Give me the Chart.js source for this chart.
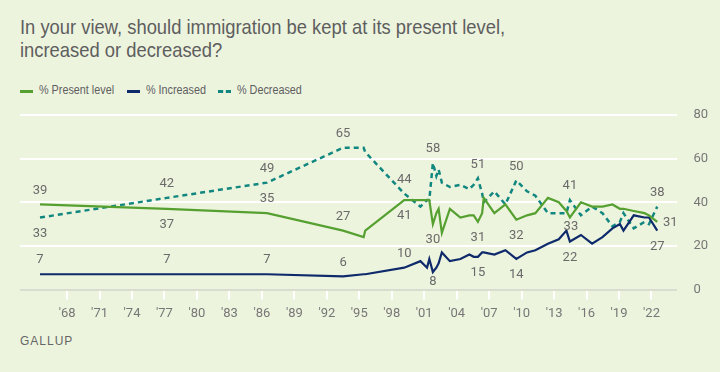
<!DOCTYPE html>
<html>
<head>
<meta charset="utf-8">
<script src="https://cdn.jsdelivr.net/npm/chart.js@4.4.0/dist/chart.umd.min.js"></script>
<style>
  html, body { margin: 0; padding: 0; }
  body { background: #edf4de; }
  #wrap { position: relative; width: 720px; height: 372px; background: #edf4de; overflow: hidden; }
  #chart { position: absolute; left: 0; top: 0; }
  .title {
    position: absolute; left: 20px; top: 15px; width: 700px;
    font-family: "Liberation Sans", Arial, sans-serif;
    font-size: 21px; line-height: 23px; color: #5e5e5e;
    transform: scaleX(0.875); transform-origin: 0 0; white-space: nowrap;
  }
  .legend {
    position: absolute; top: 83px; height: 14px;
    font-family: "Liberation Sans", Arial, sans-serif;
    font-size: 12px; color: #5e5e5e; white-space: nowrap;
  }
  .legend span { position: absolute; top: 0; display: inline-block; transform: scaleX(0.9); transform-origin: 0 0; }
  .legend i { position: absolute; top: 7px; width: 13px; height: 0; }
  .source {
    position: absolute; left: 20px; top: 334px;
    font-family: "Liberation Sans", Arial, sans-serif;
    font-size: 12px; letter-spacing: 1px; color: #666;
  }
</style>
</head>
<body>
<div id="wrap">
  <div class="title">In your view, should immigration be kept at its present level,<br>increased or decreased?</div>
  <div class="legend" style="left:0">
    <i style="left:20px;border-top:3px solid #55a030"></i><span style="left:39px">% Present level</span>
    <i style="left:127px;border-top:3px solid #0f2a6b"></i><span style="left:146px">% Increased</span>
    <i style="left:218px;border-top:3px dashed #12877f"></i><span style="left:237px">% Decreased</span>
  </div>
  <div class="source">GALLUP</div>
  <canvas id="chart" width="720" height="372"></canvas>
</div>
<script>
// Datos (años decimales)
const surveyDates = [
  1965.5, 1977.22, 1986.47, 1993.5, 1995.4, 1995.55, 1999.15, 2000.65, 2001.26, 2001.47,
  2001.8, 2002.12, 2002.33, 2002.63, 2003.37, 2004.34, 2005.17, 2005.57, 2005.96, 2006.35,
  2006.5, 2007.48, 2008.5, 2009.51, 2010.5, 2011.27, 2012.43, 2013.43, 2014.14, 2014.46,
  2015.48, 2016.51, 2017.47, 2018.39, 2019.08, 2019.41, 2020.36, 2021.35, 2021.77, 2022.53
];
const presentLevel = [
  39, 37, 35, 27, 24, 27, 41, 41, 41, 41,
  30, 35, 37, 26, 37, 33, 34, 34, 31, 35,
  42, 35, 39, 32, 34, 35, 42, 40, 36, 33,
  40, 38, 38, 39, 37, 37, 36, 35, 34, 31
];
const increased = [
  7, 7, 7, 6, 7, 7, 10, 13, 10, 14,
  8, 10, 12, 17, 13, 14, 16, 15, 15, 17,
  17, 16, 18, 14, 17, 18, 21, 23, 27, 22,
  25, 21, 24, 28, 30, 27, 34, 33, 33, 27
];
const decreased = [
  33, 42, 49, 65, 65, 63, 44, 38, 41, 41,
  58, 52, 55, 49, 47, 48, 46, 48, 51, 44,
  40, 45, 39, 50, 45, 43, 35, 35, 35, 41,
  34, 38, 35, 29, 31, 35, 28, 31, 30, 38
];
const xTickYears = [1968, 1971, 1974, 1977, 1980, 1983, 1986, 1989, 1992, 1995, 1998, 2001, 2004, 2007, 2010, 2013, 2016, 2019, 2022];
const yTicks = [0, 20, 40, 60, 80];

// índices que llevan etiqueta
const labeledPoints = [0, 1, 2, 3, 6, 10, 18, 23, 29, 39];

const toPoints = (vals) => surveyDates.map((d, i) => ({ x: d, y: vals[i] }));

// Donde va cada etiqueta: arriba / abajo / derecha
const labelPlacement = {
  0: ["above", "below", "above", "above", "below", "below", "below", "below", "near", "right"],
  1: ["above", "above", "above", "above", "above", "below", "below", "below", "below", "below"],
  2: ["below", "above", "above", "above", "above", "above", "above", "above", "above", "above"],
};

const pointLabels = {
  id: "pointLabels",
  afterDatasetsDraw(chart) {
    const ctx = chart.ctx;
    const bottom = chart.chartArea.bottom;
    ctx.save();
    ctx.font = "13px Roboto, sans-serif";
    ctx.fillStyle = "#6a6a6a";
    ctx.textAlign = "center";
    ctx.textBaseline = "middle";
    chart.data.datasets.forEach((ds, di) => {
      const meta = chart.getDatasetMeta(di);
      labeledPoints.forEach((idx, k) => {
        const pt = meta.data[idx];
        const pos = labelPlacement[di][k];
        let x = pt.x, y = pt.y;
        if (pos === "above") y -= 14;
        else if (pos === "below") y = Math.min(y + 16, bottom - 8);
        else if (pos === "near") { x += 1; y += 9; }
        else { x += 13; y += 1; }
        ctx.fillText(String(ds.data[idx].y), x, y);
      });
    });
    ctx.restore();
  },
};

const ctx = document.getElementById("chart").getContext("2d");

new Chart(ctx, {
  type: "line",
  data: {
    datasets: [
      {
        label: "% Present level",
        data: toPoints(presentLevel),
        borderColor: "#55a030",
        borderWidth: 2.2,
        pointRadius: 0,
        tension: 0,
      },
      {
        label: "% Increased",
        data: toPoints(increased),
        borderColor: "#0f2a6b",
        borderWidth: 2.2,
        pointRadius: 0,
        tension: 0,
      },
      {
        label: "% Decreased",
        data: toPoints(decreased),
        borderColor: "#12877f",
        borderWidth: 2.5,
        borderDash: [5, 4],
        pointRadius: 0,
        tension: 0,
      },
    ],
  },
  options: {
    responsive: false,
    animation: false,
    layout: { padding: { left: 20, top: 115, right: 0, bottom: 0 } },
    plugins: {
      legend: { display: false },
      tooltip: { enabled: false },
    },
    scales: {
      x: {
        type: "linear",
        min: 1963.65,
        max: 2024.31,
        afterBuildTicks: (scale) => {
          scale.ticks = xTickYears.map((v) => ({ value: v }));
        },
        afterFit: (scale) => {
          scale.height = 372 - 289.5;
        },
        ticks: {
          autoSkip: false,
          maxRotation: 0,
          padding: 6,
          color: "#777",
          font: { family: "'Liberation Sans Narrow', Roboto, sans-serif", size: 13 },
          callback: (v) => "'" + String(v).slice(2),
        },
        grid: {
          drawOnChartArea: false,
          drawTicks: true,
          tickLength: 10,
          color: "#ffffff",
          lineWidth: 2,
        },
        border: { display: false },
      },
      y: {
        position: "right",
        min: 0,
        max: 80,
        afterBuildTicks: (scale) => {
          scale.ticks = yTicks.map((v) => ({ value: v }));
        },
        afterFit: (scale) => {
          scale.width = 720 - 676.5;
        },
        ticks: {
          padding: 17,
          color: "#777",
          font: { family: "Roboto, sans-serif", size: 13 },
        },
        grid: {
          drawTicks: false,
          lineWidth: 2,
          color: (c) => (c.tick && c.tick.value === 0 ? "#d9ddd0" : "#ffffff"),
        },
        border: { display: false },
      },
    },
  },
  plugins: [pointLabels],
});
</script>
</body>
</html>
